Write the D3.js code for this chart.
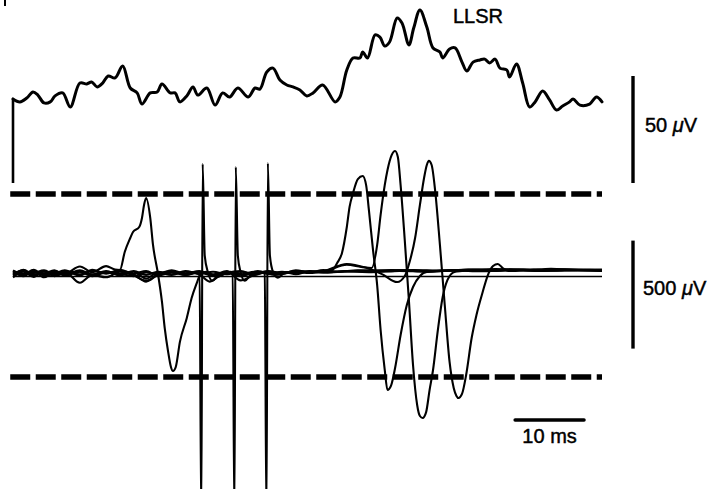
<!DOCTYPE html>
<html>
<head>
<meta charset="utf-8">
<script src="https://cdn.jsdelivr.net/npm/d3@7/dist/d3.min.js"></script>
<style>
  body { margin: 0; background: #fff; }
  svg { display: block; }
  text { font-family: "Liberation Sans", Arial, Helvetica, sans-serif; fill: #000; stroke: #000; stroke-width: 0.45px; }
</style>
</head>
<body>
<div class="svg"></div>
<script>
// averaged trace, [ms, uV]
var llsr = [
  [0,39.3],[1.0,37.9],[2.0,39.7],[2.9,42.5],[3.6,41.1],[4.5,37.4],[5.4,37.9],[6.1,40.7],[7.2,42.1],[8.3,35.5],
  [9.7,46.7],[10.7,46.3],[11.4,47.2],[12.2,44.9],[13.0,46.7],[13.8,50.0],[14.8,49.1],[15.9,54.7],[17.0,44.4],
  [18.0,42.1],[18.7,36.9],[19.9,42.1],[20.9,42.5],[21.6,46.3],[22.8,42.1],[23.5,42.1],[24.2,37.9],[25.2,40.7],
  [26.1,44.9],[26.8,41.1],[28.1,44.4],[29.3,36.4],[30.4,42.1],[31.4,40.2],[32.6,44.4],[34.1,40.2],[35.1,44.4],
  [35.8,43.9],[36.8,51.9],[37.7,53.7],[38.7,48.1],[39.7,45.8],[40.6,44.9],[41.6,43.5],[42.6,40.7],[43.5,42.1],
  [44.9,45.8],[46.7,37.9],[47.4,40.2],[48.4,52.8],[49.3,58.4],[50.3,58.4],[50.7,61.2],[51.4,58.4],[52.5,69.2],
  [53.2,68.2],[53.9,64.0],[54.6,65.9],[55.7,77.1],[56.4,74.8],[57.4,64.5],[58.1,72.4],[59.0,80.8],[60.0,72.9],
  [60.9,63.1],[61.9,61.2],[62.3,58.4],[63.3,62.6],[64.1,63.1],[65.1,56.5],[65.8,52.3],[66.7,56.5],[67.7,57.5],
  [68.4,57.9],[69.1,56.1],[69.9,57.9],[70.6,53.7],[71.6,52.8],[72.0,49.5],[73.0,55.6],[73.9,46.7],[74.9,35.5],
  [75.7,37.9],[76.8,43.0],[77.8,38.8],[78.8,34.1],[79.7,36.0],[80.7,37.9],[81.2,39.3],[82.2,36.4],[83.6,36.9],
  [84.6,40.2],[85.4,37.9]
];
var llsrStep = [[0,0],[0,39.3]];

// single sweeps, [ms, uV]
var spikeA = [
  [0,12],[1.5,-9],[3,6],[4.5,-6],[6,9],[7.5,-3],[9.7,30],[11.5,3],[13.5,32],[14.8,16],
  [15.5,14],[16.2,97],[17.0,162],[17.4,190],[18.3,213],[18.7,255],[19.0,315],[19.3,347],[19.9,255],[20.3,130],
  [21.0,0],[21.6,-134],[22.0,-255],[22.5,-366],[22.9,-435],[23.2,-454],[23.6,-435],[24.2,-319],[25.2,-208],
  [25.9,-116],[26.7,-42],[27.1,-9],[28.0,5],
  [29.5,-18],[31,0],[33,9],[35,-9],[37,6],[39,-3],[41,12],[43,3],[45,14],[47,6],[50,12],[54,8],[58,14],
  [62,10],[66,16],[70,12],[74,16],[78,12],[82,14],[85.4,12]
];
var artefact1 = [
  [0,-20],[1.5,6],[3,-18],[4.5,9],[6,-12],[7.5,6],[9.7,-45],[11.5,-9],[13.5,-20],[15.5,6],[17.5,-12],[19.3,-36],
  [21,-6],[23,9],[25,-9],[26.6,2],[27.05,0],
  [27.3,-1150],[27.5,505],[27.8,80],[28.25,5],[28.9,-36],[29.8,-8],[31.5,6],[33.5,-9],[35.5,9],[37.5,-6],
  [40,4],[43,8],[46,4],[50,10],[55,14],[60,10],[65,14],[70,18],[75,14],[80,16],[85.4,14]
];
var artefact2 = [
  [0,6],[1.5,-15],[3,9],[4.5,-20],[6,3],[7.5,-9],[9.7,12],[11.5,-6],[13.5,9],[15.5,-12],[17.5,6],[19.3,-26],
  [21,3],[23,-9],[25,6],[27,-6],[28.5,-40],[30,-12],[31.5,2],[31.85,0],
  [32.1,-1150],[32.3,491],[32.6,80],[33.0,5],[33.6,-36],[34.5,-8],[36,6],[38,-9],[40,3],[42,6],[45,2],
  [48,8],[52,4],[56,10],[60,6],[64,12],[68,8],[72,14],[76,10],[80,12],[85.4,10]
];
var artefact3 = [
  [0,0],[1.5,-6],[3,15],[4.5,-12],[6,-3],[7.5,12],[9.7,-12],[11.5,15],[13.5,-3],[15.5,15],[17.5,-3],[19.3,9],
  [21,-12],[23,3],[25,-9],[27,3],[29,-12],[31,6],[33,-15],[35,3],[36.2,4],[36.5,0],
  [36.75,-1150],[36.95,509],[37.25,80],[37.7,5],[38.4,-22],[39.5,3],[41,-6],[43,9],[45,2],[48,8],[52,6],
  [56,12],[60,8],[64,14],[68,10],[72,16],[76,12],[80,14],[85.4,12]
];
var spikeB = [
  [0,-6],[1.5,12],[3,-12],[4.5,6],[6,-15],[7.5,0],[9.7,6],[11.5,-15],[13.5,3],[15.5,-6],[17.5,9],[19.3,-9],
  [21,6],[23,-6],[25,9],[27,-3],[29,6],[31,-6],[33,6],[35,-3],[37,9],[39,0],[41,9],[43,3],[45,8],[46.3,14],
  [47.0,46],[47.7,93],[48.4,213],[48.8,306],[49.3,370],[50.0,435],[50.7,449],[51.2,407],[51.6,292],[52.2,106],
  [52.8,-56],[53.3,-264],[53.9,-449],[54.3,-542],[54.8,-523],[55.4,-440],[56.2,-287],[57.1,-148],[58.0,-65],
  [59.0,-14],[60.0,5],
  [62,8],[65,14],[68,10],[72,16],[76,12],[80,16],[85.4,14]
];
var spikeC = [
  [0,9],[1.5,-3],[3,0],[4.5,12],[6,-6],[7.5,9],[9.7,-6],[11.5,9],[13.5,0],[15.5,9],[17.5,-6],[19.3,-40],
  [21,-9],[23,6],[25,-3],[27,9],[29,-6],[31,3],[33,-6],[35,6],[37,-3],[39,6],[41,0],[43,6],[45,8],[48.4,38],
  [50.5,28],
  [52.0,23],[52.8,130],[53.3,269],[53.9,407],[54.3,477],[54.9,546],[55.4,565],[55.8,537],[56.2,407],[56.8,153],
  [57.4,-125],[58.0,-426],[58.6,-611],[59.0,-662],[59.4,-671],[59.9,-644],[60.4,-542],[60.9,-449],[61.6,-264],
  [62.3,-111],[63.0,-32],[64.0,5],
  [65.1,9],[67,14],[70,10],[74,16],[78,12],[82,14],[85.4,12]
];
var spikeD = [
  [0,-12],[1.5,15],[3,-6],[4.5,-3],[6,12],[7.5,-12],[9.7,6],[11.5,-9],[13.5,6],[15.5,-3],[17.5,-15],[19.3,3],
  [21,-6],[23,12],[25,-3],[27,6],[29,-9],[31,9],[33,-34],[35,-9],[37,6],[39,-3],[41,6],[43,0],[45,8],[48.4,42],
  [51.2,24],[53.5,-5],[55.7,-42],
  [56.8,-14],[57.5,51],[58.3,162],[59.0,315],[59.6,440],[60.0,500],[60.3,519],[60.7,500],[61.2,384],[61.9,130],
  [62.6,-148],[63.3,-412],[63.9,-532],[64.3,-569],[64.6,-579],[65.1,-560],[65.7,-472],[66.5,-301],[67.2,-194],
  [68.1,-88],[68.8,-14],[69.6,32],[70.3,42],[71.0,23],[72.0,9],
  [75,14],[78,20],[82,14],[85.4,16]
];
var sweeps = [spikeA, artefact1, artefact2, artefact3, spikeB, spikeC, spikeD];

var thresholds = [366, -481];      // uV, dashed window
var refLevel = -16;                // uV, flat reference sweep
var timeRange = [-0.4, 85.4];      // ms
var barTop = [0, 50];              // uV
var barBottom = [-350, 150];       // uV
var barTime = [72.8, 82.8];        // ms
var labelTop = "LLSR";
var labelTopBar = ["50 ", "\u03bc", "V"];
var labelBottomBar = ["500 ", "\u03bc", "V"];
var labelTime = "10 ms";

function TraceFigure(settings) {
  for (var k in settings) this[k] = settings[k];
  this.appendSvg('div.svg');
  this.makeScales();
  this.drawTop();
  this.drawSweeps();
  this.drawBars();
}

TraceFigure.prototype.appendSvg = function (selector) {
  this.svg = d3.select(selector).append('svg')
    .attr('width', this.w)
    .attr('height', this.h);
  this.svg.append('rect').attr('width', this.w).attr('height', this.h).attr('fill', '#fff');
};

TraceFigure.prototype.makeScales = function () {
  this.x = d3.scaleLinear().domain([0, 85.4]).range([13, 602]);
  this.yTop = d3.scaleLinear().domain([0, 50]).range([183, 76]);
  this.yBot = d3.scaleLinear().domain([0, 500]).range([273, 165]);
};

TraceFigure.prototype.drawTop = function () {
  var x = this.x, y = this.yTop;
  var smooth = d3.line().x(function(d){ return x(d[0]); }).y(function(d){ return y(d[1]); })
    .curve(d3.curveCatmullRom.alpha(0.5));
  var straight = d3.line().x(function(d){ return x(d[0]); }).y(function(d){ return y(d[1]); });
  this.svg.append('path').attr('d', straight(llsrStep))
    .attr('fill', 'none').attr('stroke', '#000').attr('stroke-width', 2.6);
  this.svg.append('path').attr('d', smooth(llsr))
    .attr('fill', 'none').attr('stroke', '#000').attr('stroke-width', 3)
    .attr('stroke-linejoin', 'round').attr('stroke-linecap', 'round');
  this.svg.append('text').attr('x', 453).attr('y', 23).attr('font-size', 20).text(labelTop);
};

TraceFigure.prototype.drawSweeps = function () {
  var x = this.x, y = this.yBot;
  var line = d3.line().x(function(d){ return x(d[0]); }).y(function(d){ return y(d[1]); })
    .curve(d3.curveMonotoneX);

  this.svg.append('line')
    .attr('x1', x(0)).attr('x2', x(85.4))
    .attr('y1', y(refLevel)).attr('y2', y(refLevel))
    .attr('stroke', '#000').attr('stroke-width', 1.5);

  this.svg.selectAll('path.sweep')
    .data(sweeps)
    .enter()
    .append('path')
    .attr('class', 'sweep')
    .attr('d', line)
    .attr('fill', 'none')
    .attr('stroke', '#000')
    .attr('stroke-width', 2.1)
    .attr('stroke-linejoin', 'round');

  this.svg.selectAll('line.thresh')
    .data(thresholds)
    .enter()
    .append('line')
    .attr('class', 'thresh')
    .attr('x1', x(timeRange[0])).attr('x2', x(timeRange[1]))
    .attr('y1', function(d){ return y(d); }).attr('y2', function(d){ return y(d); })
    .attr('stroke', '#000')
    .attr('stroke-width', 5.5)
    .attr('stroke-dasharray', '20,5.5');
};

TraceFigure.prototype.drawBars = function () {
  var svg = this.svg, x = this.x;
  var bx = 633;
  svg.append('line').attr('x1', bx).attr('x2', bx)
    .attr('y1', this.yTop(barTop[0])).attr('y2', this.yTop(barTop[1]))
    .attr('stroke', '#000').attr('stroke-width', 3.4);
  svg.append('line').attr('x1', bx).attr('x2', bx)
    .attr('y1', this.yBot(barBottom[0])).attr('y2', this.yBot(barBottom[1]))
    .attr('stroke', '#000').attr('stroke-width', 3.4);
  svg.append('line').attr('x1', x(barTime[0])).attr('x2', x(barTime[1]))
    .attr('y1', 420).attr('y2', 420)
    .attr('stroke', '#000').attr('stroke-width', 3.4).attr('stroke-linecap', 'round');

  function unitLabel(px, py, parts) {
    var t = svg.append('text').attr('x', px).attr('y', py).attr('font-size', 20);
    t.append('tspan').text(parts[0]);
    t.append('tspan').attr('font-style', 'italic').text(parts[1]);
    t.append('tspan').text(parts[2]);
  }
  unitLabel(645, 132, labelTopBar);
  unitLabel(643, 295, labelBottomBar);
  svg.append('text').attr('x', (x(barTime[0]) + x(barTime[1])) / 2).attr('y', 443)
    .attr('font-size', 20).attr('text-anchor', 'middle').text(labelTime);

  // corner of the panel frame
  svg.append('line').attr('x1', 5).attr('x2', 5).attr('y1', 0).attr('y2', 6)
    .attr('stroke', '#000').attr('stroke-width', 2);
};

var fig = new TraceFigure({ w: 717, h: 489 });
</script>
</body>
</html>
